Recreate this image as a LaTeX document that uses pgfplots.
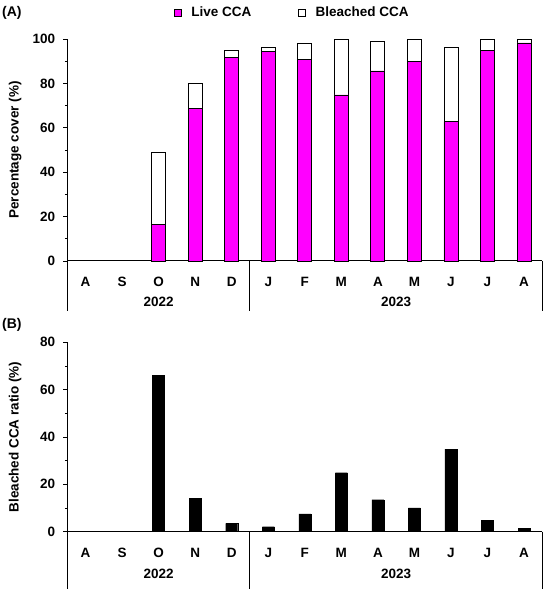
\documentclass[border=0pt]{standalone}
\usepackage{fontspec}
\setmainfont{Liberation Sans}
\usepackage{pgfplots}
\pgfplotsset{compat=1.18}
\definecolor{live}{RGB}{255,0,255}
\newcommand{\ff}{\bfseries\fontsize{13.5}{16}\selectfont}
\pgfplotsset{
  common/.style={
    scale only axis,
    width=475pt,
    xmin=-0.5, xmax=12.5,
    ymin=0,
    axis lines*=left,
    axis line style={line width=1pt},
    clip=false,
    xtick={0,...,12},
    xticklabels={A,S,O,N,D,J,F,M,A,M,J,J,A},
    x tick style={draw=none},
    tick align=outside,
    major tick length=4pt,
    minor tick length=2.5pt,
    minor y tick num=1,
    y tick style={line width=0.8pt, black},
    /pgf/number format/assume math mode=true,
    tick label style={font=\ff},
    yticklabel style={anchor=east, inner sep=0pt, xshift=-8pt},
    xticklabel style={anchor=center, yshift=-17.3pt},
    label style={font=\ff},
    ylabel style={at={(rel axis cs:-0.110,0.5)}, anchor=center, rotate=0},
  }
}
\begin{document}
\begin{tikzpicture}
\useasboundingbox (0,0) rectangle (550pt,589pt);
% Panel A
\begin{axis}[common,
  at={(67.3pt,328pt)}, anchor=south west,
  height=222pt, ymax=100,
  ytick={0,20,40,60,80,100},
  ylabel={Percentage cover (\%)},
  ybar stacked, bar width=14pt,
  legend columns=2,
  legend image code/.code={\draw[line width=0.8pt,#1] (0pt,-3.5pt) rectangle (7.5pt,3.5pt);},
  legend style={draw=none, fill=none, font=\ff, inner sep=0pt,
    at={(rel axis cs:0,1)}, anchor=west, xshift=106pt, yshift=26.5pt,
    nodes={inner sep=0pt},
    /tikz/every odd column/.append style={column sep=9.5pt},
    /tikz/every even column/.append style={column sep=46.5pt}},
]
\addplot[fill=live, draw=black, line width=0.8pt] coordinates {
(2,16.5) (3,68.7) (4,91.5) (5,94.2) (6,90.9) (7,74.8) (8,85.6) (9,89.7) (10,62.8) (11,94.8) (12,98.2)};
\addplot[fill=white, draw=black, line width=0.8pt] coordinates {
(2,32.4) (3,11.5) (4,3.4) (5,2.1) (6,7.3) (7,24.8) (8,13.2) (9,9.9) (10,33.3) (11,4.8) (12,1.4)};
\legend{Live CCA, Bleached CCA}
\draw[line width=1pt] (axis cs:-0.5,0) -- ++(0pt,-49.7pt);
\draw[line width=1pt] (axis cs:4.5,0) -- ++(0pt,-49.7pt);
\draw[line width=1pt] (axis cs:12.5,0) -- ++(0pt,-49.7pt);
\node[font=\ff, anchor=center] at ([yshift=-41.3pt]axis cs:2,0) {2022};
\node[font=\ff, anchor=center] at ([yshift=-41.3pt]axis cs:8.5,0) {2023};
\end{axis}
% Panel B
\begin{axis}[common,
  at={(67.3pt,57.3pt)}, anchor=south west,
  height=189.4pt, ymax=80,
  ytick={0,20,40,60,80},
  ylabel={Bleached CCA ratio (\%)},
  ybar, bar width=12pt,
]
\addplot[fill=black, draw=black] coordinates {
(2,65.9) (3,14.2) (4,3.5) (5,2.1) (6,7.5) (7,24.9) (8,13.5) (9,10.1) (10,34.9) (11,4.8) (12,1.4)};
\draw[line width=1pt] (axis cs:-0.5,0) -- ++(0pt,-57.3pt);
\draw[line width=1pt] (axis cs:4.5,0) -- ++(0pt,-57.3pt);
\draw[line width=1pt] (axis cs:12.5,0) -- ++(0pt,-57.3pt);
\node[font=\ff, anchor=center] at ([yshift=-42.6pt]axis cs:2,0) {2022};
\node[font=\ff, anchor=center] at ([yshift=-42.6pt]axis cs:8.5,0) {2023};
\end{axis}
\node[font=\bfseries\fontsize{14}{16}\selectfont, anchor=west, inner sep=0pt] at (2pt,575.7pt) {(A)};
\node[font=\bfseries\fontsize{14}{16}\selectfont, anchor=west, inner sep=0pt] at (2pt,264pt) {(B)};
\end{tikzpicture}
\end{document}
